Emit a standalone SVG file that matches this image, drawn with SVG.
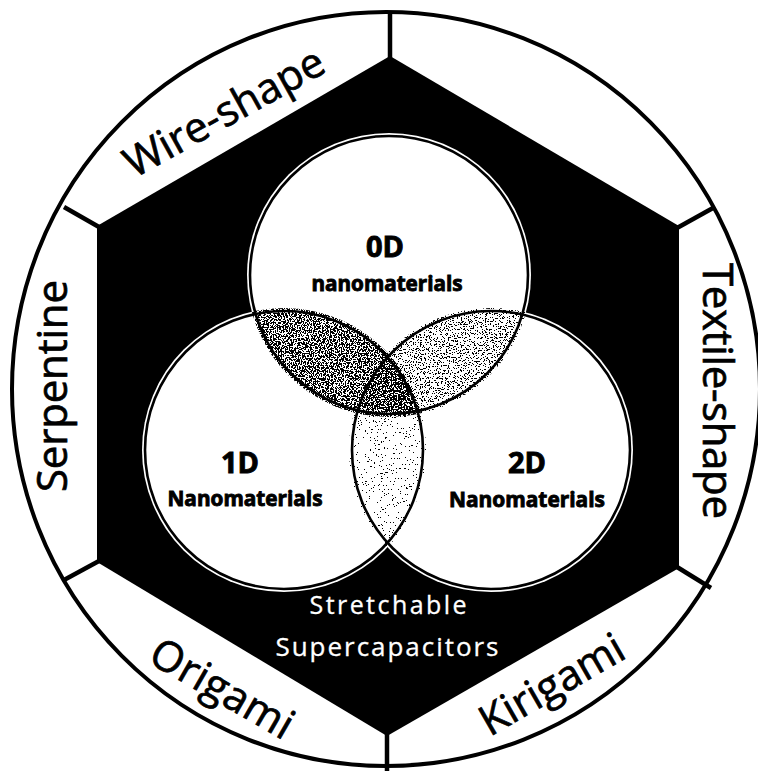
<svg xmlns="http://www.w3.org/2000/svg" width="758" height="771" viewBox="0 0 758 771">
<style>
.lbl{font-family:"Open Sans","Liberation Sans",sans-serif;font-size:42px;fill:#000;stroke:#000;stroke-width:0.7;text-anchor:middle}
.bold{font-family:"Open Sans","Liberation Sans",sans-serif;font-weight:700;fill:#000;stroke:#000;stroke-width:0.9;text-anchor:middle}
.wt{font-family:"Open Sans","Liberation Sans",sans-serif;fill:#fff;stroke:#fff;stroke-width:0.3;text-anchor:middle}
.div{stroke:#000;stroke-width:4.5;fill:none}
.vl{fill:none;stroke:#000;stroke-width:2.6}
</style>
<defs>
<clipPath id="cTop"><circle cx="389" cy="275" r="142"/></clipPath>
<clipPath id="cLeft"><circle cx="284" cy="450" r="142"/></clipPath>
<filter id="sDense" x="0" y="0" width="1" height="1" color-interpolation-filters="sRGB">
<feTurbulence type="fractalNoise" baseFrequency="0.75" numOctaves="2" seed="3" result="t"/>
<feColorMatrix in="t" type="matrix" values="0 0 0 0 0  0 0 0 0 0  0 0 0 0 0  1 0 0 0 0"/>
<feComponentTransfer><feFuncA type="discrete" tableValues="0 0 0 0 0 0 0 0 0 0 1 1 1 1 1 1 1 1 1 1"/></feComponentTransfer>
<feComposite in2="SourceGraphic" operator="in"/>
</filter>
<filter id="sMed" x="0" y="0" width="1" height="1" color-interpolation-filters="sRGB">
<feTurbulence type="fractalNoise" baseFrequency="0.75" numOctaves="2" seed="11" result="t"/>
<feColorMatrix in="t" type="matrix" values="0 0 0 0 0  0 0 0 0 0  0 0 0 0 0  1 0 0 0 0"/>
<feComponentTransfer><feFuncA type="discrete" tableValues="0 0 0 0 0 0 0 0 0 0 0 0 1 1 1 1 1 1 1 1"/></feComponentTransfer>
<feComposite in2="SourceGraphic" operator="in"/>
</filter>
<filter id="sLight" x="0" y="0" width="1" height="1" color-interpolation-filters="sRGB">
<feTurbulence type="fractalNoise" baseFrequency="0.75" numOctaves="2" seed="27" result="t"/>
<feColorMatrix in="t" type="matrix" values="0 0 0 0 0  0 0 0 0 0  0 0 0 0 0  1 0 0 0 0"/>
<feComponentTransfer><feFuncA type="discrete" tableValues="0 0 0 0 0 0 0 0 0 0 0 0 0 0 1 1 1 1 1 1"/></feComponentTransfer>
<feComposite in2="SourceGraphic" operator="in"/>
</filter>
</defs>
<rect width="758" height="771" fill="#fff"/>
<g id="ring">
<ellipse cx="386" cy="389" rx="374" ry="377" fill="#fff" stroke="#000" stroke-width="4"/>
</g>
<g id="hexagon">
<polygon points="390,56 679,226 679,568 387,736 97,562 97,226" fill="#000"/>
</g>
<g id="connectors">
<line class="div" x1="390" y1="11" x2="390" y2="58"/>
<line class="div" x1="677" y1="228" x2="713" y2="208"/>
<line class="div" x1="677" y1="567" x2="711" y2="588"/>
<line class="div" x1="387" y1="733" x2="387" y2="771"/>
<line class="div" x1="99" y1="561" x2="64" y2="580"/>
<line class="div" x1="99" y1="227" x2="64" y2="207"/>
</g>
<g id="seg-wire"><text class="lbl" transform="translate(231,125) rotate(-29)" textLength="222">Wire-shape</text></g>
<g id="seg-blank"></g>
<g id="seg-textile"><text class="lbl" transform="translate(703,391) rotate(90)" textLength="256">Textile-shape</text></g>
<g id="seg-kirigami"><text class="lbl" transform="translate(559,697) rotate(-30)" textLength="160">Kirigami</text></g>
<g id="seg-origami"><text class="lbl" transform="translate(215,701) rotate(30)" textLength="158">Origami</text></g>
<g id="seg-serpentine"><text class="lbl" transform="translate(67,386) rotate(-90)" textLength="212">Serpentine</text></g>
<g id="venn">
<circle cx="389" cy="275" r="142" fill="#fff"/>
<circle cx="284" cy="450" r="142" fill="#fff"/>
<circle cx="491" cy="450" r="142" fill="#fff"/>
<g clip-path="url(#cTop)"><circle cx="284" cy="450" r="142" fill="#000" filter="url(#sDense)"/></g>
<g clip-path="url(#cTop)"><circle cx="491" cy="450" r="142" fill="#000" filter="url(#sMed)"/></g>
<g clip-path="url(#cLeft)"><circle cx="491" cy="450" r="142" fill="#000" filter="url(#sLight)"/></g>
</g>
<g id="node-0D">
<circle class="vl" cx="389" cy="275" r="139"/>
<text class="bold" x="385" y="257" font-size="29">0D</text>
<text class="bold" x="387" y="291" font-size="21" textLength="151" lengthAdjust="spacingAndGlyphs">nanomaterials</text>
</g>
<g id="node-1D">
<circle class="vl" cx="284" cy="450" r="139"/>
<text class="bold" x="240" y="473" font-size="29">1D</text>
<text class="bold" x="245" y="506" font-size="21" textLength="155" lengthAdjust="spacingAndGlyphs">Nanomaterials</text>
</g>
<g id="node-2D">
<circle class="vl" cx="491" cy="450" r="139"/>
<text class="bold" x="527" y="473" font-size="29">2D</text>
<text class="bold" x="527" y="507" font-size="21" textLength="156" lengthAdjust="spacingAndGlyphs">Nanomaterials</text>
</g>
<g id="center-label">
<text class="wt" x="388" y="614" font-size="25" textLength="157">Stretchable</text>
<text class="wt" x="387" y="656" font-size="26" textLength="223">Supercapacitors</text>
</g>
</svg>
